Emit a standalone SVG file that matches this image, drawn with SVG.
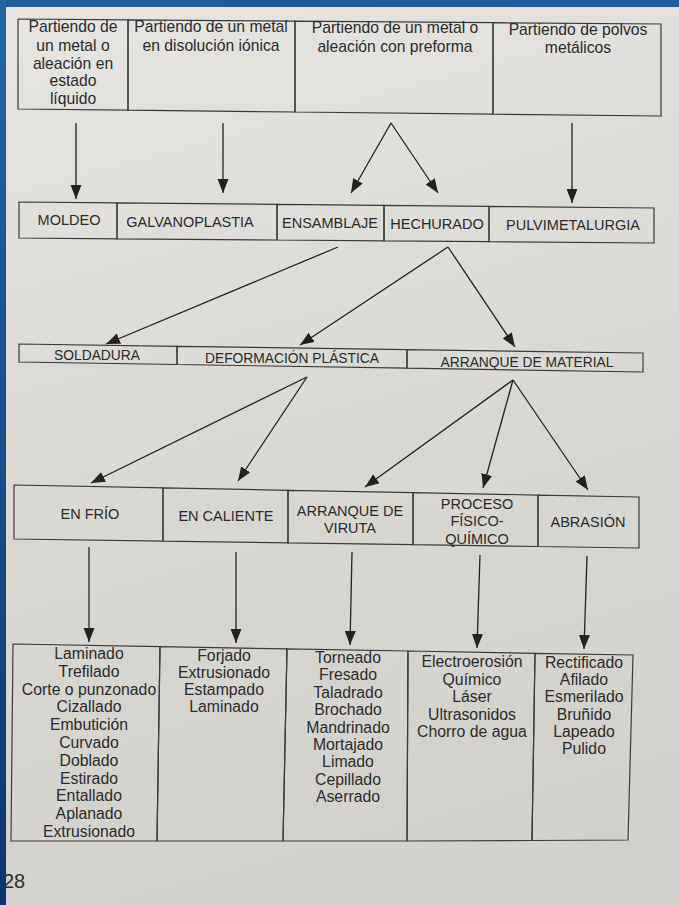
<svg xmlns="http://www.w3.org/2000/svg" width="679" height="905" viewBox="0 0 679 905">
<defs>
<linearGradient id="paper" x1="0" y1="0" x2="0.2" y2="1">
<stop offset="0" stop-color="#e6e5e1"/>
<stop offset="0.6" stop-color="#d9d7d2"/>
<stop offset="1" stop-color="#d3d1cc"/>
</linearGradient>
<linearGradient id="band" x1="0" y1="0" x2="0" y2="1">
<stop offset="0" stop-color="#2566a2"/>
<stop offset="1" stop-color="#0c3767"/>
</linearGradient>
<marker id="ah" markerUnits="userSpaceOnUse" markerWidth="15" markerHeight="12" refX="14" refY="5.5" orient="auto">
<path d="M0,0 L14,5.5 L0,11 z" fill="#222"/>
</marker>
<style>
.box{fill:none;stroke:#3a3a3a;stroke-width:1.2;stroke-linejoin:miter}
.t{font-family:"Liberation Sans",Arial,sans-serif;fill:#2b2b2b;text-anchor:middle}
.r1{font-size:15.7px}
.cap{font-size:14.5px}
.r3{font-size:13.8px}
.lst{font-size:15.8px}
.c line{stroke:#222;stroke-width:1.3;marker-end:url(#ah)}
</style>
</defs>
<rect x="0" y="0" width="679" height="905" fill="url(#paper)"/>

<!-- Row 1 -->
<g id="n-liquido">
<polygon class="box" points="18,19 128,19.9 128,110.2 18,109"/>
<text class="t r1" x="73" y="32">Partiendo de</text>
<text class="t r1" x="73" y="50.5">un metal o</text>
<text class="t r1" x="73" y="68.5">aleación en</text>
<text class="t r1" x="73" y="86">estado</text>
<text class="t r1" x="73" y="104">líquido</text>
</g>
<g id="n-ionica">
<polygon class="box" points="128,19.9 295,21.2 295,112 128,110.2"/>
<text class="t r1" x="211" y="32">Partiendo de un metal</text>
<text class="t r1" x="211" y="50.5">en disolución iónica</text>
</g>
<g id="n-preforma">
<polygon class="box" points="295,21.2 493,22.7 493,114.2 295,112"/>
<text class="t r1" x="395" y="33">Partiendo de un metal o</text>
<text class="t r1" x="395" y="51.5">aleación con preforma</text>
</g>
<g id="n-polvos">
<polygon class="box" points="493,22.7 661,24 661,116 493,114.2"/>
<text class="t r1" x="578" y="34.5">Partiendo de polvos</text>
<text class="t r1" x="578" y="53">metálicos</text>
</g>

<!-- Row 2 -->
<g id="n-moldeo">
<polygon class="box" points="19,202 117,202.9 117,238.8 19,238"/>
<text class="t cap" x="69" y="225">MOLDEO</text>
</g>
<g id="n-galvano">
<polygon class="box" points="117,202.9 277,204.4 277,240 117,238.8"/>
<text class="t cap" x="190" y="226.5">GALVANOPLASTIA</text>
</g>
<g id="n-ensamblaje">
<polygon class="box" points="277,204.4 384,205.4 384,240.9 277,240"/>
<text class="t cap" x="330" y="227.5">ENSAMBLAJE</text>
</g>
<g id="n-hechurado">
<polygon class="box" points="384,205.4 489,206.4 489,241.7 384,240.9"/>
<text class="t cap" x="437" y="228.5">HECHURADO</text>
</g>
<g id="n-pulvi">
<polygon class="box" points="489,206.4 654,208 654,243 489,241.7"/>
<text class="t cap" x="573" y="229.5">PULVIMETALURGIA</text>
</g>

<!-- Row 3 -->
<g id="n-soldadura">
<polygon class="box" points="19,344 177,346.3 177,364.5 19,362"/>
<text class="t r3" x="97" y="359.5">SOLDADURA</text>
</g>
<g id="n-deformacion">
<polygon class="box" points="177,346.3 407,349.6 407,368.2 177,364.5"/>
<text class="t r3" x="292" y="363">DEFORMACIÓN PLÁSTICA</text>
</g>
<g id="n-arranque">
<polygon class="box" points="407,349.6 643,353 643,372 407,368.2"/>
<text class="t r3" x="527" y="366.5">ARRANQUE DE MATERIAL</text>
</g>

<!-- Row 4 -->
<g id="n-frio">
<polygon class="box" points="14,485 163,487.9 163,541.1 14,539"/>
<text class="t cap" x="90" y="518.5">EN FRÍO</text>
</g>
<g id="n-caliente">
<polygon class="box" points="163,487.9 288,490.3 288,542.9 163,541.1"/>
<text class="t cap" x="226" y="521">EN CALIENTE</text>
</g>
<g id="n-viruta">
<polygon class="box" points="288,490.3 413,492.7 413,544.7 288,542.9"/>
<text class="t cap" x="350" y="516">ARRANQUE DE</text>
<text class="t cap" x="350" y="533">VIRUTA</text>
</g>
<g id="n-fisicoquimico">
<polygon class="box" points="413,492.7 538,495.1 538,546.5 413,544.7"/>
<text class="t cap" x="477" y="508.5">PROCESO</text>
<text class="t cap" x="477" y="526">FÍSICO-</text>
<text class="t cap" x="477" y="543.5">QUÍMICO</text>
</g>
<g id="n-abrasion">
<polygon class="box" points="538,495.1 639,497 639,548 538,546.5"/>
<text class="t cap" x="588" y="527">ABRASIÓN</text>
</g>

<!-- Row 5 -->
<g id="n-lista-frio">
<polygon class="box" points="13,644 160,646.6 157,841 11,841"/>
<text class="t lst" x="89" y="659">Laminado</text>
<text class="t lst" x="89" y="676.8">Trefilado</text>
<text class="t lst" x="89" y="694.6">Corte o punzonado</text>
<text class="t lst" x="89" y="712.4">Cizallado</text>
<text class="t lst" x="89" y="730.2">Embutición</text>
<text class="t lst" x="89" y="748">Curvado</text>
<text class="t lst" x="89" y="765.8">Doblado</text>
<text class="t lst" x="89" y="783.6">Estirado</text>
<text class="t lst" x="89" y="801.4">Entallado</text>
<text class="t lst" x="89" y="819.2">Aplanado</text>
<text class="t lst" x="89" y="837">Extrusionado</text>
</g>
<g id="n-lista-caliente">
<polygon class="box" points="160,646.6 287,648.9 283,841 157,841"/>
<text class="t lst" x="224" y="661">Forjado</text>
<text class="t lst" x="224" y="678">Extrusionado</text>
<text class="t lst" x="224" y="695">Estampado</text>
<text class="t lst" x="224" y="712">Laminado</text>
</g>
<g id="n-lista-viruta">
<polygon class="box" points="287,648.9 408,651 407,841 283,841"/>
<text class="t lst" x="348" y="663">Torneado</text>
<text class="t lst" x="348" y="680.4">Fresado</text>
<text class="t lst" x="348" y="697.8">Taladrado</text>
<text class="t lst" x="348" y="715.2">Brochado</text>
<text class="t lst" x="348" y="732.6">Mandrinado</text>
<text class="t lst" x="348" y="750">Mortajado</text>
<text class="t lst" x="348" y="767.4">Limado</text>
<text class="t lst" x="348" y="784.8">Cepillado</text>
<text class="t lst" x="348" y="802.2">Aserrado</text>
</g>
<g id="n-lista-fisicoquimico">
<polygon class="box" points="408,651 535,653.3 532,840.5 407,841"/>
<text class="t lst" x="472" y="667">Electroerosión</text>
<text class="t lst" x="472" y="684.5">Químico</text>
<text class="t lst" x="472" y="702">Láser</text>
<text class="t lst" x="472" y="719.5">Ultrasonidos</text>
<text class="t lst" x="472" y="737">Chorro de agua</text>
</g>
<g id="n-lista-abrasion">
<polygon class="box" points="535,653.3 633,655 628,840 532,840.5"/>
<text class="t lst" x="584" y="668">Rectificado</text>
<text class="t lst" x="584" y="685.2">Afilado</text>
<text class="t lst" x="584" y="702.4">Esmerilado</text>
<text class="t lst" x="584" y="719.6">Bruñido</text>
<text class="t lst" x="584" y="736.8">Lapeado</text>
<text class="t lst" x="584" y="754">Pulido</text>
</g>

<!-- Connectors -->
<g id="connectors" class="c">
<line x1="76" y1="123" x2="76" y2="199"/>
<line x1="223" y1="123" x2="223" y2="193"/>
<line x1="391" y1="123" x2="351" y2="193"/>
<line x1="391" y1="123" x2="438" y2="193"/>
<line x1="572" y1="123" x2="572" y2="203"/>
<line x1="338" y1="247" x2="106" y2="344"/>
<line x1="448" y1="247" x2="300" y2="345"/>
<line x1="448" y1="247" x2="515" y2="347"/>
<line x1="307" y1="377" x2="91" y2="483"/>
<line x1="307" y1="377" x2="238" y2="481"/>
<line x1="513" y1="380" x2="365" y2="487"/>
<line x1="513" y1="380" x2="483" y2="488"/>
<line x1="513" y1="380" x2="588" y2="490"/>
<line x1="89" y1="547" x2="89" y2="642"/>
<line x1="236" y1="552" x2="236" y2="643"/>
<line x1="352" y1="552" x2="350" y2="645"/>
<line x1="480" y1="555" x2="477" y2="648"/>
<line x1="587" y1="556" x2="584" y2="649"/>
</g>

<text x="3" y="888" font-family="'Liberation Sans',Arial,sans-serif" font-size="20" fill="#2e2e2e">28</text>
<rect x="0" y="0" width="679" height="7" fill="#1f5c98"/>
<rect x="0" y="0" width="6" height="905" fill="url(#band)"/>
</svg>
